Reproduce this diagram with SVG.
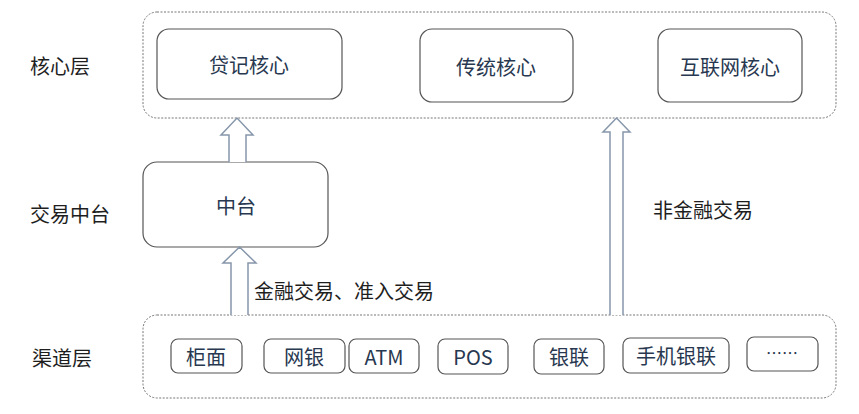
<svg xmlns="http://www.w3.org/2000/svg" width="859" height="414" viewBox="0 0 859 414">
<style>
text{font-family:"Noto Sans CJK SC","Noto Sans",sans-serif;font-size:20px;text-anchor:middle;dominant-baseline:central}
.lbl{fill:#1e1e1e;text-anchor:start}
.nt{fill:#283850}
.grp{fill:none;stroke:#777;stroke-width:1;stroke-dasharray:2 1.5}
.box{fill:#fff;stroke:#555;stroke-width:1.2}
.arr{fill:#fff;stroke:#8797ab;stroke-width:1.5}
</style>
<rect width="859" height="414" fill="#fff"/>
<g id="core-layer">
<rect class="grp" x="143" y="12" width="693" height="106" rx="14"/>
<text class="lbl" x="30" y="65">核心层</text>
</g>
<g id="mid-layer-label"><text class="lbl" x="30" y="213">交易中台</text></g>
<g id="channel-layer">
<rect class="grp" x="143" y="315" width="693" height="83" rx="14"/>
<text class="lbl" x="32" y="357">渠道层</text>
</g>
<g id="n-daiji"><rect class="box" x="157" y="29" width="185" height="70" rx="12"/><text class="nt" x="249" y="64">贷记核心</text></g>
<g id="n-chuantong"><rect class="box" x="420" y="29" width="153" height="73" rx="12"/><text class="nt" x="496" y="66">传统核心</text></g>
<g id="n-hulianwang"><rect class="box" x="658" y="29" width="144" height="73" rx="12"/><text class="nt" x="730" y="66">互联网核心</text></g>
<g id="n-zhongtai"><rect class="box" x="143" y="162" width="185" height="85" rx="14"/><text class="nt" x="236" y="205">中台</text></g>
<g id="n-guimian"><rect class="box" x="171" y="339" width="71" height="34" rx="7"/><text class="nt" x="206" y="356">柜面</text></g>
<g id="n-wangyin"><rect class="box" x="264" y="339" width="81" height="34" rx="7"/><text class="nt" x="304" y="356">网银</text></g>
<g id="n-atm"><rect class="box" x="349" y="339" width="70" height="34" rx="7"/><text class="nt" x="384" y="356">ATM</text></g>
<g id="n-pos"><rect class="box" x="438" y="339" width="70" height="35" rx="7"/><text class="nt" x="473" y="356">POS</text></g>
<g id="n-yinlian"><rect class="box" x="534" y="339" width="70" height="35" rx="7"/><text class="nt" x="569" y="356">银联</text></g>
<g id="n-shouji"><rect class="box" x="623" y="338" width="106" height="35" rx="7"/><text class="nt" x="676" y="355">手机银联</text></g>
<g id="n-more"><rect class="box" x="747" y="337" width="71" height="34" rx="7"/><text class="nt" x="782" y="352" style="font-size:16px">……</text></g>
<g id="connectors">
<path class="arr" d="M229,162 V135 H221 L237,118 L253,135 H246 V162"/>
<path class="arr" d="M231,315 V263 H223 L239.5,247 L256,263 H248 V315"/>
<path class="arr" d="M610,315 V132 H603 L616.5,118 L630,132 H623 V315"/>
<text class="lbl" x="254" y="290">金融交易、准入交易</text>
<text class="lbl" x="653" y="209">非金融交易</text>
</g>
</svg>
